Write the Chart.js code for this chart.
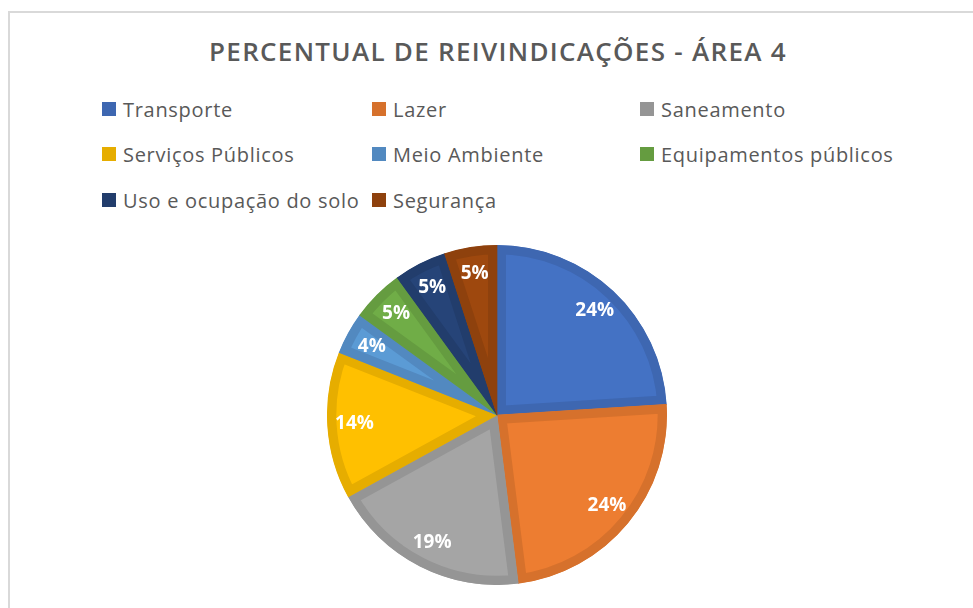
<!DOCTYPE html>
<html>
<head>
<meta charset="utf-8">
<script src="https://cdn.jsdelivr.net/npm/chart.js@4"></script>
<style>
  html, body { margin:0; padding:0; background:#fff; }
  body { width:973px; height:608px; position:relative; overflow:hidden; font-family:"Open Sans", sans-serif; }
  #card { position:absolute; left:8px; top:11px; width:990px; height:620px; border-left:2px solid #d9d9d9; border-top:2px solid #d9d9d9; box-sizing:border-box; }
  #title { position:absolute; left:0; width:996px; top:33px; text-align:center; font-size:26px; font-weight:600; color:#595959; letter-spacing:1.3px; white-space:nowrap; }
  .leg { position:absolute; display:flex; align-items:center; font-size:20px; color:#595959; letter-spacing:0.7px; white-space:nowrap; height:28px; }
  .leg .box { width:14px; height:14px; margin-right:7px; flex:none; }
  #pieWrap { position:absolute; left:327px; top:245px; width:340px; height:340px; }
</style>
</head>
<body>
<div id="card"></div>
<div id="title"></div>
<div id="legend"></div>
<div id="pieWrap"><canvas id="c"></canvas></div>
<script>
const chartTitle = "PERCENTUAL DE REIVINDICAÇÕES - ÁREA 4";
const categories = ["Transporte", "Lazer", "Saneamento", "Serviços Públicos", "Meio Ambiente", "Equipamentos públicos", "Uso e ocupação do solo", "Segurança"];
const values = [24, 24, 19, 14, 4, 5, 5, 5];
const fillColors = ["#4472C4", "#ED7D31", "#A5A5A5", "#FFC000", "#5B9BD5", "#70AD47", "#264478", "#9E480E"];
const borderColors = ["#3E67B1", "#D6712C", "#959595", "#E6AD00", "#5289C0", "#659C40", "#223D6C", "#8E410D"];

document.getElementById('title').textContent = chartTitle;

// legend: 3 columns
const legendCols = [102, 372, 640];
const legendRows = [109, 154, 200];
const legendEl = document.getElementById('legend');
categories.forEach((name, i) => {
  const d = document.createElement('div');
  d.className = 'leg';
  d.style.left = legendCols[i % 3] + 'px';
  d.style.top = (legendRows[Math.floor(i / 3)] - 14) + 'px';
  const b = document.createElement('span');
  b.className = 'box';
  b.style.background = borderColors[i];
  const t = document.createElement('span');
  t.textContent = name;
  d.appendChild(b); d.appendChild(t);
  legendEl.appendChild(d);
});

const pctLabels = {
  id: 'pctLabels',
  afterDatasetsDraw(chart) {
    const ctx = chart.ctx;
    const meta = chart.getDatasetMeta(0);
    ctx.save();
    ctx.fillStyle = '#ffffff';
    ctx.font = 'bold 19px "Open Sans", sans-serif';
    ctx.textAlign = 'center';
    ctx.textBaseline = 'middle';
    meta.data.forEach((arc, i) => {
      const p = arc.getProps(['x', 'y', 'startAngle', 'endAngle', 'outerRadius']);
      const mid = (p.startAngle + p.endAngle) / 2;
      const r = p.outerRadius * 0.84;
      ctx.fillText(values[i] + '%', p.x + Math.cos(mid) * r, p.y + Math.sin(mid) * r);
    });
    ctx.restore();
  }
};

new Chart(document.getElementById('c'), {
  type: 'pie',
  data: {
    labels: categories,
    datasets: [{
      data: values,
      backgroundColor: fillColors,
      borderColor: borderColors,
      borderWidth: 9,
      borderAlign: 'inner',
      offset: 0,
      hoverOffset: 0
    }]
  },
  options: {
    responsive: true,
    maintainAspectRatio: false,
    animation: false,
    layout: { padding: 0 },
    plugins: { legend: { display: false }, title: { display: false }, tooltip: { enabled: false } }
  },
  plugins: [pctLabels]
});
</script>
</body>
</html>
